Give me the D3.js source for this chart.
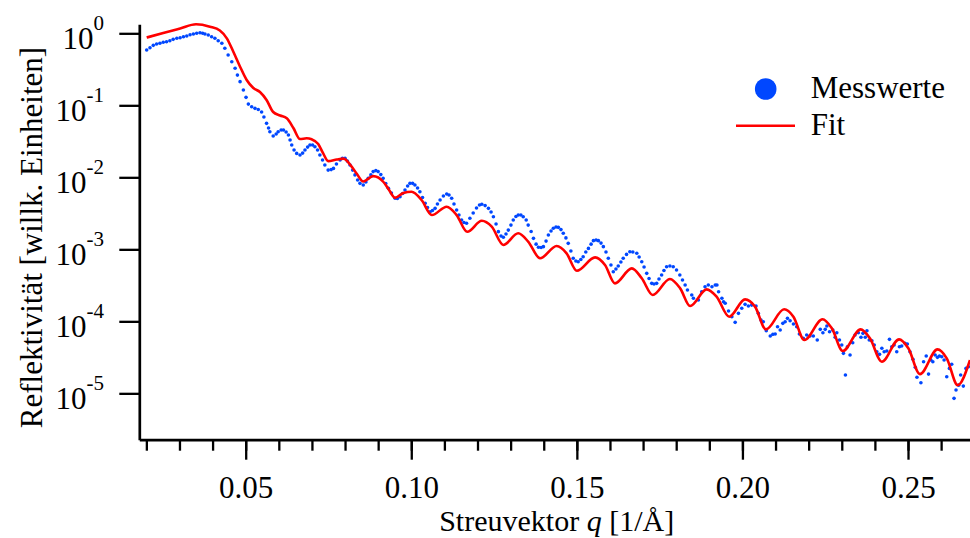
<!DOCTYPE html>
<html>
<head>
<meta charset="utf-8">
<script src="https://cdn.jsdelivr.net/npm/d3@7"></script>
<style>
    body { margin: 0; background: #fff; }
    svg text { font-family: "Liberation Serif", "Times New Roman", serif; fill: #000; }
</style>
</head>
<body>
<div id="chart"></div>
<script>
// Fit (rote Linie)
const qFit = [
    0.0201, 0.0251, 0.0302, 0.0350, 0.0392, 0.0422, 0.0443, 0.0463, 0.0483, 0.0503,
    0.0523, 0.0543, 0.0563, 0.0583, 0.0604, 0.0624, 0.0644, 0.0664, 0.0684, 0.0699,
    0.0719, 0.0734, 0.0749, 0.0775, 0.0795, 0.0820, 0.0836, 0.0855, 0.0885, 0.0916,
    0.0933, 0.0951, 0.0976, 0.1001, 0.1031, 0.1062, 0.1107, 0.1137, 0.1169, 0.1213,
    0.1243, 0.1278, 0.1323, 0.1353, 0.1389, 0.1439, 0.1469, 0.1500, 0.1555, 0.1585,
    0.1615, 0.1666, 0.1696, 0.1729, 0.1781, 0.1812, 0.1842, 0.1892, 0.1922, 0.1960,
    0.2008, 0.2038, 0.2071, 0.2126, 0.2154, 0.2187, 0.2242, 0.2270, 0.2303, 0.2357,
    0.2385, 0.2421, 0.2473, 0.2501, 0.2536, 0.2589, 0.2617, 0.2650, 0.2687
];
const rFit = [
    0.874, 1.01, 1.166, 1.334, 1.235, 1.094, 0.852, 0.550, 0.344, 0.2246,
    0.174, 0.153, 0.1186, 0.0807, 0.0722, 0.0660, 0.0484, 0.0340, 0.0348, 0.0337,
    0.0290, 0.0215, 0.0168, 0.0177, 0.0182, 0.0141, 0.0111, 0.00874, 0.0104, 0.00861,
    0.00667, 0.00519, 0.00605, 0.00631, 0.00484, 0.00299, 0.00391, 0.00299, 0.00175, 0.00249,
    0.00206, 0.00115, 0.00167, 0.00128, 7.50e-4, 1.11e-3, 8.80e-4, 5.05e-4, 7.74e-4, 6.05e-4,
    3.37e-4, 5.44e-4, 3.96e-4, 2.32e-4, 3.87e-4, 2.87e-4, 1.63e-4, 2.78e-4, 2.20e-4, 1.16e-4,
    2.02e-4, 1.60e-4, 7.74e-5, 1.47e-4, 1.16e-4, 5.50e-5, 1.07e-4, 8.00e-5, 3.87e-5, 7.74e-5,
    5.81e-5, 2.75e-5, 5.62e-5, 4.22e-5, 1.85e-5, 4.08e-5, 3.06e-5, 1.30e-5, 2.90e-5
];

const qMeas = [
    0.0201, 0.0211, 0.0221, 0.0231, 0.0241, 0.0251, 0.0261, 0.0271, 0.0281, 0.0292,
    0.0302, 0.0312, 0.0322, 0.0332, 0.0342, 0.0352, 0.0362, 0.0370, 0.0377, 0.0387,
    0.0397, 0.0407, 0.0417, 0.0428, 0.0437, 0.0447, 0.0458, 0.0468, 0.0475, 0.0483,
    0.0493, 0.0501, 0.0508, 0.0518, 0.0528, 0.0538, 0.0548, 0.0555, 0.0563, 0.0569,
    0.0573, 0.0583, 0.0592, 0.0598, 0.0607, 0.0614, 0.0622, 0.0629, 0.0634, 0.0639,
    0.0646, 0.0654, 0.0664, 0.0672, 0.0679, 0.0687, 0.0694, 0.0702, 0.0709, 0.0717,
    0.0724, 0.0732, 0.0739, 0.0749, 0.0758, 0.0765, 0.0774, 0.0785, 0.0792, 0.0800,
    0.0807, 0.0815, 0.0823, 0.0830, 0.0838, 0.0845, 0.0855, 0.0863, 0.0870, 0.0878,
    0.0885, 0.0893, 0.0900, 0.0908, 0.0915, 0.0923, 0.0931, 0.0940, 0.0951, 0.0958,
    0.0966, 0.0974, 0.0981, 0.0989, 0.0996, 0.1004, 0.1011, 0.1019, 0.1026, 0.1034,
    0.1042, 0.1049, 0.1057, 0.1064, 0.1072, 0.1079, 0.1087, 0.1097, 0.1107, 0.1114,
    0.1122, 0.1129, 0.1137, 0.1144, 0.1152, 0.1159, 0.1167, 0.1177, 0.1187, 0.1197,
    0.1206, 0.1213, 0.1223, 0.1233, 0.1241, 0.1248, 0.1256, 0.1263, 0.1271, 0.1278,
    0.1286, 0.1293, 0.1301, 0.1308, 0.1316, 0.1323, 0.1331, 0.1338, 0.1347, 0.1353,
    0.1362, 0.1369, 0.1377, 0.1384, 0.1392, 0.1399, 0.1407, 0.1414, 0.1422, 0.1429,
    0.1437, 0.1444, 0.1452, 0.1459, 0.1467, 0.1474, 0.1482, 0.1489, 0.1497, 0.1504,
    0.1512, 0.1519, 0.1527, 0.1535, 0.1543, 0.1550, 0.1558, 0.1565, 0.1573, 0.1580,
    0.1588, 0.1595, 0.1603, 0.1610, 0.1618, 0.1625, 0.1633, 0.1640, 0.1650, 0.1660,
    0.1669, 0.1681, 0.1688, 0.1696, 0.1703, 0.1711, 0.1718, 0.1726, 0.1733, 0.1741,
    0.1748, 0.1756, 0.1763, 0.1771, 0.1781, 0.1791, 0.1801, 0.1811, 0.1819, 0.1827,
    0.1834, 0.1847, 0.1852, 0.1867, 0.1877, 0.1887, 0.1897, 0.1908, 0.1918, 0.1923,
    0.1928, 0.1938, 0.1943, 0.1948, 0.1958, 0.1968, 0.1978, 0.1988, 0.1998, 0.2008,
    0.2018, 0.2028, 0.2041, 0.2048, 0.2056, 0.2063, 0.2072, 0.2084, 0.2092, 0.2099,
    0.2106, 0.2114, 0.2122, 0.2129, 0.2136, 0.2144, 0.2154, 0.2164, 0.2172, 0.2184,
    0.2194, 0.2204, 0.2214, 0.2226, 0.2235, 0.2243, 0.2250, 0.2255, 0.2263, 0.2273,
    0.2280, 0.2285, 0.2293, 0.2300, 0.2305, 0.2311, 0.2317, 0.2325, 0.2333, 0.2340,
    0.2350, 0.2358, 0.2364, 0.2371, 0.2376, 0.2383, 0.2391, 0.2398, 0.2406, 0.2414,
    0.2421, 0.2428, 0.2436, 0.2444, 0.2451, 0.2458, 0.2466, 0.2474, 0.2481, 0.2491,
    0.2498, 0.2506, 0.2515, 0.2522, 0.2527, 0.2539, 0.2547, 0.2555, 0.2562, 0.2569,
    0.2575, 0.2582, 0.2589, 0.2595, 0.2602, 0.2609, 0.2617, 0.2625, 0.2632, 0.2639,
    0.2645, 0.2653, 0.2659, 0.2667, 0.2675, 0.2682
];
const rMeas = [
    0.586, 0.631, 0.681, 0.710, 0.726, 0.750, 0.764, 0.788, 0.825, 0.852,
    0.869, 0.897, 0.917, 0.956, 0.978, 1.00, 1.02, 1.00, 0.978, 0.946,
    0.897, 0.852, 0.788, 0.726, 0.619, 0.499, 0.403, 0.327, 0.263, 0.213,
    0.163, 0.129, 0.104, 0.0956, 0.0908, 0.0875, 0.0809, 0.0688, 0.0562, 0.0484,
    0.0430, 0.0375, 0.0399, 0.0430, 0.0454, 0.0454, 0.0426, 0.0387, 0.0330, 0.0281,
    0.0239, 0.0215, 0.0204, 0.0217, 0.0239, 0.0263, 0.0281, 0.0281, 0.0266, 0.0239,
    0.0204, 0.0174, 0.0148, 0.0126, 0.0128, 0.0133, 0.0153, 0.0174, 0.0184, 0.0184,
    0.0168, 0.0148, 0.0126, 0.0108, 0.00917, 0.00825, 0.00781, 0.00861, 0.00968, 0.0108,
    0.0120, 0.0124, 0.0120, 0.0109, 0.00968, 0.00820, 0.00704, 0.00605, 0.00511, 0.00507,
    0.00537, 0.00595, 0.00666, 0.00757, 0.00825, 0.00825, 0.00781, 0.00710, 0.00631, 0.00524,
    0.00435, 0.00381, 0.00333, 0.00346, 0.00371, 0.00426, 0.00484, 0.00550, 0.00586, 0.00568,
    0.00511, 0.00426, 0.00351, 0.00300, 0.00255, 0.00236, 0.00230, 0.00270, 0.00319, 0.00375,
    0.00412, 0.00422, 0.00405, 0.00371, 0.00330, 0.00284, 0.00225, 0.00176, 0.00153, 0.00147,
    0.00163, 0.00185, 0.00217, 0.00255, 0.00286, 0.00300, 0.00300, 0.00284, 0.00255, 0.00217,
    0.00177, 0.00142, 0.00118, 0.00107, 0.00106, 0.00109, 0.00130, 0.00158, 0.00180, 0.00196,
    0.00204, 0.00202, 0.00188, 0.00167, 0.00144, 0.00121, 9.46e-4, 7.50e-4, 6.88e-4, 6.72e-4,
    7.21e-4, 7.88e-4, 9.17e-4, 1.03e-3, 1.18e-3, 1.32e-3, 1.35e-3, 1.32e-3, 1.22e-3, 1.09e-3,
    9.17e-4, 7.50e-4, 6.05e-4, 4.89e-4, 5.32e-4, 5.86e-4, 6.66e-4, 7.50e-4, 8.50e-4, 9.26e-4,
    9.17e-4, 8.80e-4, 7.81e-4, 6.72e-4, 5.68e-4, 4.64e-4, 3.93e-4, 3.37e-4, 3.30e-4, 3.37e-4,
    3.87e-4, 4.40e-4, 5.08e-4, 5.74e-4, 5.86e-4, 5.74e-4, 5.16e-4, 4.40e-4, 3.75e-4, 3.19e-4,
    2.72e-4, 2.32e-4, 2.09e-4, 1.98e-4, 2.58e-4, 3.02e-4, 3.19e-4, 3.02e-4, 3.19e-4, 3.19e-4,
    2.58e-4, 2.09e-4, 1.87e-4, 1.78e-4, 1.39e-4, 1.16e-4, 9.68e-5, 1.29e-4, 1.52e-4, 1.72e-4,
    1.63e-4, 1.68e-4, 1.63e-4, 1.29e-4, 1.04e-4, 9.87e-5, 7.41e-5, 6.24e-5, 6.59e-5, 6.66e-5,
    8.42e-5, 7.57e-5, 9.38e-5, 9.87e-5, 1.10e-4, 1.02e-4, 9.17e-5, 8.42e-5, 6.66e-5, 5.81e-5,
    6.45e-5, 6.24e-5, 6.24e-5, 5.50e-5, 7.74e-5, 6.94e-5, 7.74e-5, 8.61e-5, 7.17e-5, 7.57e-5,
    6.00e-5, 6.94e-5, 5.50e-5, 4.69e-5, 3.59e-5, 1.80e-5, 4.44e-5, 3.40e-5, 5.04e-5, 6.45e-5,
    6.94e-5, 6.00e-5, 6.81e-5, 6.00e-5, 7.41e-5, 5.50e-5, 5.37e-5, 4.69e-5, 3.78e-5, 3.48e-5,
    4.22e-5, 3.78e-5, 3.87e-5, 5.62e-5, 4.44e-5, 4.69e-5, 3.78e-5, 4.44e-5, 4.54e-5, 4.95e-5,
    4.84e-5, 3.78e-5, 2.97e-5, 2.30e-5, 1.67e-5, 1.40e-5, 2.75e-5, 3.30e-5, 1.85e-5, 2.90e-5,
    2.75e-5, 3.40e-5, 3.16e-5, 3.30e-5, 3.22e-5, 2.90e-5, 1.70e-5, 2.22e-5, 2.53e-5, 8.52e-6,
    1.11e-5, 1.30e-5, 1.80e-5, 1.26e-5, 2.22e-5, 2.34e-5
];

// Achsen
const xMajorTicks = [0.05, 0.10, 0.15, 0.20, 0.25];
const xMinorTicks = [0.02, 0.03, 0.04, 0.05, 0.06, 0.07, 0.08, 0.09, 0.10, 0.11, 0.12, 0.13, 0.14,
    0.15, 0.16, 0.17, 0.18, 0.19, 0.20, 0.21, 0.22, 0.23, 0.24, 0.25, 0.26];
const yTicks = [1, 1e-1, 1e-2, 1e-3, 1e-4, 1e-5];
const yTickExps = ['0', '-1', '-2', '-3', '-4', '-5'];
const legendLabels = ['Messwerte', 'Fit'];

const width = 970, height = 538;
const plot = { left: 139.3, right: 970, top: 24.3, bottom: 439.7 };
const colors = { meas: '#0047ff', fit: '#ff0000' };
const serif = '"Liberation Serif", "Times New Roman", serif';

const svg = d3.select('#chart')
    .append('svg')
    .attr('width', width)
    .attr('height', height);

const x = d3.scaleLinear().domain([0.01787, 0.26872]).range([plot.left, plot.right]);
const y = d3.scaleLog().domain([2.27e-6, 1.334]).range([plot.bottom, plot.top]);

svg.append('defs').append('clipPath')
    .attr('id', 'plotClip')
    .append('rect')
    .attr('x', plot.left)
    .attr('y', 0)
    .attr('width', plot.right - plot.left)
    .attr('height', plot.bottom);

// Messpunkte
svg.append('g')
    .attr('clip-path', 'url(#plotClip)')
    .selectAll('circle')
    .data(d3.zip(qMeas, rMeas))
    .join('circle')
    .attr('cx', d => x(d[0]))
    .attr('cy', d => y(d[1]))
    .attr('r', 1.8)
    .attr('fill', colors.meas);

// Fit
const fitLine = d3.line()
    .x(d => x(d[0]))
    .y(d => y(d[1]))
    .curve(d3.curveMonotoneX);

svg.append('path')
    .attr('clip-path', 'url(#plotClip)')
    .datum(d3.zip(qFit, rFit))
    .attr('d', fitLine)
    .attr('fill', 'none')
    .attr('stroke', colors.fit)
    .attr('stroke-width', 2.6)
    .attr('stroke-linejoin', 'round');

// x-Achse
svg.append('g')
    .attr('transform', `translate(0,${plot.bottom})`)
    .call(d3.axisBottom(x).tickValues(xMinorTicks).tickSize(11).tickSizeOuter(0).tickFormat(''));
const gxMajor = svg.append('g')
    .attr('transform', `translate(0,${plot.bottom})`)
    .call(d3.axisBottom(x).tickValues(xMajorTicks).tickSize(20).tickSizeOuter(0).tickFormat(d3.format('.2f')));
gxMajor.select('.domain').remove();
gxMajor.selectAll('text')
    .attr('y', 58.3)
    .attr('dy', null)
    .style('font-size', '31px')
    .style('font-family', serif)
    .attr('fill', '#000');

// y-Achse
svg.append('g')
    .attr('transform', `translate(${plot.left},0)`)
    .call(d3.axisLeft(y).tickValues(yTicks).tickSize(20).tickSizeOuter(0).tickFormat(''));

svg.selectAll('.domain').attr('stroke', '#000').attr('stroke-width', 2.7);
svg.selectAll('.tick line').attr('stroke', '#000').attr('stroke-width', 2.3);

const yLabels = svg.append('g');
yTicks.forEach((t, i) => {
    const label = yLabels.append('text')
        .attr('x', 104)
        .attr('y', y(t) + 15.5)
        .attr('text-anchor', 'end')
        .style('font-size', '31px');
    label.append('tspan').text('10');
    label.append('tspan')
        .attr('dy', -19)
        .style('font-size', '21px')
        .text(yTickExps[i]);
});

// Achsentitel
svg.append('text')
    .attr('transform', 'translate(42,237.5) rotate(-90)')
    .attr('text-anchor', 'middle')
    .style('font-size', '31px')
    .text('Reflektivität [willk. Einheiten]');

const xTitle = svg.append('text')
    .attr('x', (plot.left + plot.right) / 2 + 2)
    .attr('y', 531.3)
    .attr('text-anchor', 'middle')
    .style('font-size', '30px');
xTitle.append('tspan').text('Streuvektor ');
xTitle.append('tspan').style('font-style', 'italic').text('q');
xTitle.append('tspan').text(' [1/Å]');

// Legende
const legend = svg.append('g');
legend.append('circle')
    .attr('cx', 765.7)
    .attr('cy', 89)
    .attr('r', 10.8)
    .attr('fill', colors.meas);
legend.append('line')
    .attr('x1', 736).attr('x2', 795)
    .attr('y1', 125.7).attr('y2', 125.7)
    .attr('stroke', colors.fit)
    .attr('stroke-width', 2.6);
legend.selectAll('text.leg')
    .data(legendLabels)
    .join('text')
    .attr('class', 'leg')
    .attr('x', 810.7)
    .attr('y', (d, i) => i === 0 ? 98.3 : 135)
    .style('font-size', '31px')
    .text(d => d);
</script>
</body>
</html>
